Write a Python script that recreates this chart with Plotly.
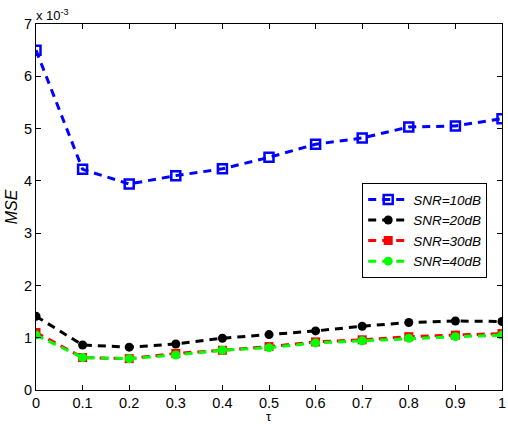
import plotly.graph_objects as go

tau = [0, 0.1, 0.2, 0.3, 0.4, 0.5, 0.6, 0.7, 0.8, 0.9, 1.0]
snr10 = [6.50, 4.22, 3.94, 4.10, 4.23, 4.45, 4.70, 4.82, 5.03, 5.05, 5.19]
snr20 = [1.41, 0.86, 0.82, 0.88, 0.99, 1.06, 1.13, 1.22, 1.29, 1.32, 1.31]
snr30 = [1.10, 0.62, 0.60, 0.70, 0.76, 0.83, 0.92, 0.96, 1.02, 1.05, 1.08]
snr40 = [1.05, 0.62, 0.60, 0.67, 0.76, 0.81, 0.90, 0.94, 0.99, 1.02, 1.05]
names = ["SNR=10dB", "SNR=20dB", "SNR=30dB", "SNR=40dB"]
xticks = [0, 0.1, 0.2, 0.3, 0.4, 0.5, 0.6, 0.7, 0.8, 0.9, 1]
yticks = [0, 1, 2, 3, 4, 5, 6, 7]

series = [
    (snr10, names[0], "#0000ff", "square-open", 9),
    (snr20, names[1], "#000000", "circle", 9),
    (snr30, names[2], "#ff0000", "square", 9),
    (snr40, names[3], "#00ff00", "circle", 9),
]

fig = go.Figure()
for ys, nm, col, sym, sz in series:
    fig.add_trace(go.Scatter(
        x=tau, y=ys, name=nm, mode="lines+markers",
        line=dict(color=col, width=3, dash="8px,6px"),
        marker=dict(symbol=sym, size=sz, color=col,
                    line=dict(color=col, width=2.5 if sym == "square-open" else 0)),
    ))

fam = "Liberation Sans, Arial, sans-serif"
fig.update_layout(
    width=508, height=424,
    margin=dict(l=36, r=6, t=24, b=34),
    paper_bgcolor="white", plot_bgcolor="white",
    font=dict(family=fam, size=14.5, color="black"),
    showlegend=True,
    legend=dict(
        x=0.70, y=0.565, xanchor="left", yanchor="top",
        bordercolor="black", borderwidth=1, bgcolor="white",
        font=dict(family=fam, size=13.5, style="italic"),
        tracegroupgap=0, itemwidth=40,
    ),
    xaxis=dict(
        range=[0, 1], tickvals=xticks, ticktext=[str(v) for v in xticks],
        ticks="inside", ticklen=5, tickcolor="black", mirror="ticks",
        showline=True, linecolor="black", linewidth=1, showgrid=False, zeroline=False,
        automargin=False, ticklabeloverflow="allow",
    ),
    yaxis=dict(
        range=[0, 7], tickvals=yticks,
        ticks="inside", ticklen=5, tickcolor="black", mirror="ticks",
        showline=True, linecolor="black", linewidth=1, showgrid=False, zeroline=False,
        automargin=False,
        title=dict(text="MSE", standoff=2, font=dict(size=16, style="italic")),
    ),
    annotations=[
        dict(x=0, y=1, xref="paper", yref="paper", xanchor="left", yanchor="bottom",
             text="x 10<sup>-3</sup>", showarrow=False, yshift=-1, xshift=-2,
             font=dict(size=13)),
        dict(x=0.5, y=0, xref="paper", yref="paper", xanchor="center", yanchor="middle",
             text="τ", showarrow=False, yshift=-26, font=dict(size=13)),
    ],
)

fig.write_html("out.html", config={"displayModeBar": False},
               post_script="document.body.style.margin='0';document.body.style.overflow='hidden';")
